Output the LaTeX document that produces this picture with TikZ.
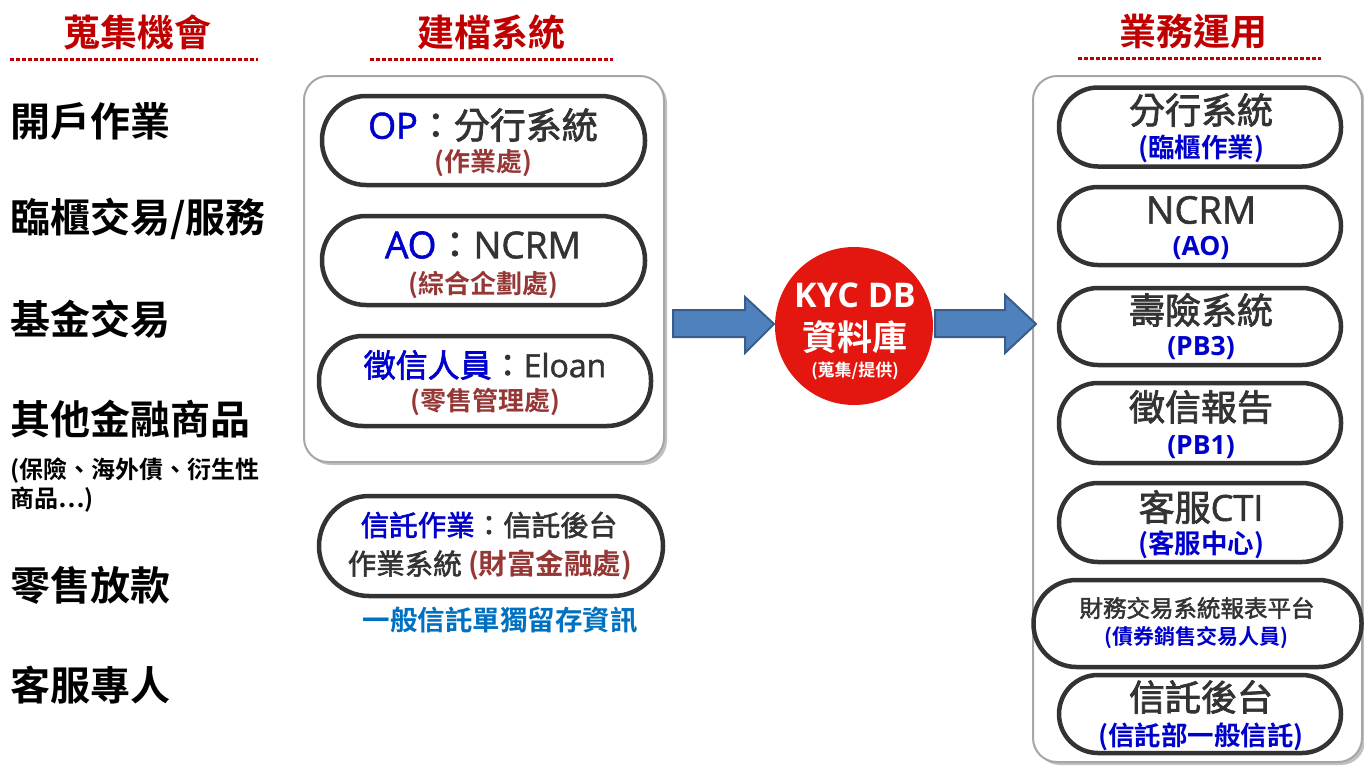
\documentclass[tikz,border=0pt]{standalone}
\usepackage{fontspec}
\setmainfont{Noto Sans CJK TC}[BoldFont={Noto Sans CJK TC Bold}]
\newfontfamily\regf{Noto Sans CJK TC}[FakeBold=2]
\newfontfamily\lat{Open Sans}
\newfontfamily\latm{Open Sans}[FakeBold=1.5]
\usetikzlibrary{shadows}
\definecolor{hred}{HTML}{C00000}
\definecolor{gtext}{HTML}{333333}
\definecolor{bl}{HTML}{0000CC}
\definecolor{brn}{HTML}{953735}
\definecolor{kred}{HTML}{E3170F}
\definecolor{afill}{HTML}{4F81BD}
\definecolor{aline}{HTML}{385D8A}
\definecolor{pillc}{HTML}{333333}
\definecolor{boxc}{HTML}{A6A6A6}
\definecolor{lblue}{HTML}{0070C0}
\newcommand\fs[1]{\fontsize{#1}{#1}\selectfont}
\tikzset{
  bigbox/.style={draw=boxc, line width=2pt, rounded corners=24pt, fill=white,
    drop shadow={shadow xshift=3pt, shadow yshift=-3pt, opacity=0.35, fill=black!70}},
  pillL/.style={draw=pillc, line width=4.5pt, rounded corners=44pt, fill=white, inner sep=0pt},
  pillR/.style={draw=pillc, line width=4.5pt, rounded corners=39pt, fill=white, inner sep=0pt},
  head/.style={font=\fs{37}\bfseries, text=hred, inner sep=0pt},
  dots/.style={draw=hred, line width=3pt, dash pattern=on 3.5pt off 2.5pt},
  lab/.style={font=\fs{40}\bfseries, text=black, anchor=west, inner sep=0pt},
  slab/.style={font=\fs{24}\bfseries, text=black, anchor=west, inner sep=0pt},
  main/.style={text=gtext, inner sep=0pt},
  subL/.style={font=\fs{26}\bfseries, text=brn, inner sep=0pt},
  subR/.style={font=\fs{26.5}\bfseries, text=bl, inner sep=0pt},
  barrow/.style={fill=afill, draw=aline, line width=2pt, line join=miter},
}
\begin{document}
\begin{tikzpicture}[x=1pt, y=-1pt]
\useasboundingbox (0,0) rectangle (1364,766);

% headings
\node[head] (h1) at (137,32) {蒐集機會};
\node[head] (h2) at (491,32) {建檔系統};
\node[head] (h3) at (1193,32) {業務運用};
\coordinate (d1a) at (10,59); \coordinate (d1b) at (258,59);
\coordinate (d2a) at (370,59); \coordinate (d2b) at (613,59);
\coordinate (d3a) at (1078,58); \coordinate (d3b) at (1321,58);
\draw[dots] (d1a) -- (d1b);
\draw[dots] (d2a) -- (d2b);
\draw[dots] (d3a) -- (d3b);

% left column
\node[lab] (l1) at (10,121) {開戶作業};
\node[lab] (l2) at (10,219) {臨櫃交易/服務};
\node[lab] (l3) at (10,319) {基金交易};
\node[lab] (l4) at (10,419) {其他金融商品};
\node[slab] (l5) at (10,471) {(保險、海外債、衍生性};
\node[slab] (l6) at (10,500) {商品…)};
\node[lab] (l7) at (10,585) {零售放款};
\node[lab] (l8) at (10,685) {客服專人};

% left box
\node[bigbox, minimum width=360pt, minimum height=386pt] (lbox) at (484,269) {};
\node[pillL, minimum width=323pt, minimum height=89pt] (p1) at (483.5,140.5) {};
\node[pillL, minimum width=323pt, minimum height=89pt] (p2) at (483.5,260.5) {};
\node[pillL, minimum width=332pt, minimum height=90pt] (p3) at (485,381) {};
\node[main, font=\fs{36}\regf] (t1) at (483,125) {\textcolor{bl}{\latm OP}：分行系統};
\node[subL] (s1) at (483,163) {(作業處)};
\node[main, font=\fs{37}\regf] (t2) at (483,245) {\textcolor{bl}{\latm AO}：{\latm NCRM}};
\node[subL] (s2) at (483,285) {(綜合企劃處)};
\node[main, font=\fs{32}\regf] (t3) at (485,365) {\textcolor{bl}{徵信人員}：{\latm Eloan}};
\node[subL] (s3) at (485,402) {(零售管理處)};

% trust pill
\node[pillL, minimum width=344pt, minimum height=100pt, rounded corners=50pt] (p4) at (491,546) {};
\node[main, font=\fs{28.5}\regf] (t4) at (489,525) {\textcolor{bl}{信託作業}：信託後台};
\node[main, font=\fs{28.5}\regf] (t5) at (490,565) {作業系統 \textcolor{brn}{\rmfamily\bfseries (財富金融處)}};
\node[font=\fs{27.5}\bfseries, text=lblue, inner sep=0pt] (t6) at (500,620) {一般信託單獨留存資訊};

% KYC circle
\node[circle, fill=kred, minimum size=158pt, inner sep=0pt] (kyc) at (854,326) {};
\node[font=\fs{34}\lat\bfseries, text=white, inner sep=0pt] (k1) at (855,295) {KYC DB};
\node[font=\fs{35}\bfseries, text=white, inner sep=0pt] (k2) at (855,337) {資料庫};
\node[font=\fs{17}\bfseries, text=white, inner sep=0pt] (k3) at (855,371) {(蒐集/提供)};

% right box
\node[bigbox, minimum width=329pt, minimum height=686pt] (rbox) at (1197.5,419) {};
\node[pillR, minimum width=282pt, minimum height=79pt] (r1) at (1200,127) {};
\node[pillR, minimum width=282pt, minimum height=78pt] (r2) at (1200,226) {};
\node[pillR, minimum width=282pt, minimum height=77pt] (r3) at (1200,326.5) {};
\node[pillR, minimum width=282pt, minimum height=80pt] (r4) at (1200,423) {};
\node[pillR, minimum width=282pt, minimum height=79pt] (r5) at (1200,522.5) {};
\node[pillR, minimum width=328pt, minimum height=87pt, rounded corners=43pt] (r6) at (1197.5,623.5) {};
\node[pillR, minimum width=282pt, minimum height=78pt] (r7) at (1200,714) {};

\node[main, font=\fs{36}\regf] (u1) at (1201,110) {分行系統};
\node[subR] (v1) at (1201,149) {(臨櫃作業)};
\node[main, font=\fs{38}\latm] (u2) at (1201,210) {NCRM};
\node[subR, font=\fs{26.5}\lat\bfseries] (v2) at (1201,248) {(AO)};
\node[main, font=\fs{36}\regf] (u3) at (1201,310) {壽險系統};
\node[subR, font=\fs{26.5}\lat\bfseries] (v3) at (1201,348) {(PB3)};
\node[main, font=\fs{36}\regf] (u4) at (1201,407) {徵信報告};
\node[subR, font=\fs{26.5}\lat\bfseries] (v4) at (1201,447) {(PB1)};
\node[main, font=\fs{36}\regf] (u5) at (1201,507) {客服{\latm CTI}};
\node[subR] (v5) at (1201,545) {(客服中心)};
\node[main, font=\fs{23.5}\regf] (u6) at (1197,608) {財務交易系統報表平台};
\node[font=\fs{21}\bfseries, text=bl, inner sep=0pt] (v6) at (1196,638) {(債券銷售交易人員)};
\node[main, font=\fs{36}\regf] (u7) at (1201,697) {信託後台};
\node[subR] (v7) at (1201,737) {(信託部一般信託)};

% block arrows
\draw[barrow] (673,310) -- (745,310) -- (745,297) -- (774,324) -- (745,353) -- (745,337) -- (673,337) -- cycle;
\draw[barrow] (935,310) -- (1005,310) -- (1005,295) -- (1036,324) -- (1005,353) -- (1005,337) -- (935,337) -- cycle;
\end{tikzpicture}
\end{document}
